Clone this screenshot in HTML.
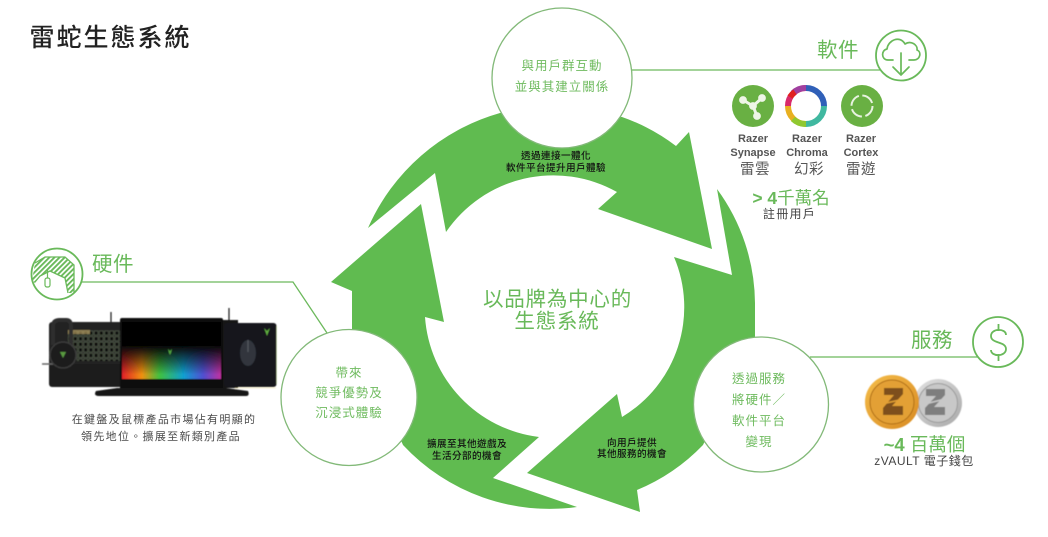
<!DOCTYPE html>
<html><head><meta charset="utf-8"><style>
html,body{margin:0;padding:0;background:#fff}
svg{display:block}
text{font-family:"Liberation Sans","Noto Sans CJK TC",sans-serif;text-anchor:middle}
.g{fill:#69b95a}
.c{fill:#6fbb5f;font-size:12.5px;letter-spacing:1px}
.k{fill:#111;font-size:9.6px;letter-spacing:.4px;font-weight:500}
.d{fill:#4a4a4a;font-size:11px;letter-spacing:1.300px}
.r{fill:#555;font-size:11px;font-weight:700}
</style></head><body>
<svg width="1048" height="537" viewBox="0 0 1048 537" xmlns="http://www.w3.org/2000/svg">
<defs>
<filter id="b"><feGaussianBlur stdDeviation=".6"/></filter>
<linearGradient id="sp" x1="0" x2="1" y1="0" y2="0"><stop offset="0" stop-color="#e0202a"/><stop offset=".2" stop-color="#f09010"/><stop offset=".38" stop-color="#40c040"/><stop offset=".62" stop-color="#10a0d0"/><stop offset=".82" stop-color="#5050d0"/><stop offset="1" stop-color="#c030a0"/></linearGradient>
<linearGradient id="fd" x1="0" x2="0" y1="0" y2="1"><stop offset="0" stop-color="#060606"/><stop offset=".42" stop-color="#060606"/><stop offset=".92" stop-color="#060606" stop-opacity="0"/></linearGradient>
<linearGradient id="gold" x1="0" x2="1" y1="0" y2="1"><stop offset="0" stop-color="#f5bd4a"/><stop offset="1" stop-color="#d88a22"/></linearGradient>
<linearGradient id="silv" x1="0" x2="1" y1="0" y2="1"><stop offset="0" stop-color="#e2e2e2"/><stop offset="1" stop-color="#a8a8a8"/></linearGradient>
<pattern id="hatch" width="3.600" height="3.600" patternUnits="userSpaceOnUse" patternTransform="rotate(45)"><rect width="1.900" height="3.600" fill="#69b95a"/></pattern>
<pattern id="keys" width="5.200" height="5.600" patternUnits="userSpaceOnUse"><rect x=".6" y=".6" width="3.800" height="4.200" fill="#0a0a0a" stroke="#4f5a48" stroke-width=".8"/></pattern>
</defs>
<rect width="1048" height="537" fill="#fff"/>

<text x="110.500" y="46" style="font-size:25px;letter-spacing:2px;fill:#222;font-weight:500">雷蛇生態系統</text>

<!-- arrows -->
<g fill="#60bb50">
<path d="M368 228 A205 205 0 0 1 500 113 L622 117 A195 195 0 0 1 676 146 L689 132 L712 249 L598 209 L617 192 A130 130 0 0 0 446 232 L435 173 Z"/>
<path d="M717 189 A195 195 0 0 1 755 303 L755 337 L703 445 A195 195 0 0 1 637 490 L640 512 L527 473 L617 394 L622 417 A128 128 0 0 0 674 257 L732 275 Z"/>
<path d="M577 507 A200 200 0 0 1 403 445 L352 330 L352 291 L331 282 L421 204 L444 322 L425 317 A130 130 0 0 0 539 437 L493 478 Z"/>
</g>

<!-- connector lines -->
<g fill="none" stroke="#6cb95c" stroke-width="1.300">
<path d="M632 70 H880"/>
<path d="M80 282 H293 L327 333"/>
<path d="M810 357 H978"/>
</g>

<!-- big circles -->
<g fill="#fff" stroke="#82b978" stroke-width="1.300">
<circle cx="562" cy="78" r="70"/>
<circle cx="761" cy="404.500" r="67.500"/>
<circle cx="349" cy="397.500" r="68"/>
</g>

<text class="c" x="562" y="70">與用戶群互動</text>
<text class="c" x="562" y="91">並與其建立關係</text>
<text class="c" x="349" y="377">帶來</text>
<text class="c" x="349" y="397">競爭優勢及</text>
<text class="c" x="349" y="417">沉浸式體驗</text>
<text class="c" x="759" y="383">透過服務</text>
<text class="c" x="759" y="404">將硬件／</text>
<text class="c" x="759" y="425">軟件平台</text>
<text class="c" x="759" y="446">變現</text>

<text class="k" x="556" y="159">透過連接一體化</text>
<text class="k" x="556" y="171">軟件平台提升用戶體驗</text>
<text class="k" x="467" y="447">擴展至其他遊戲及</text>
<text class="k" x="467" y="459">生活分部的機會</text>
<text class="k" x="632" y="446">向用戶提供</text>
<text class="k" x="632" y="457">其他服務的機會</text>

<text x="557.500" y="306" style="font-size:20.500px;letter-spacing:.8px;fill:#69b95a">以品牌為中心的</text>
<text x="557" y="328" style="font-size:20.500px;letter-spacing:.8px;fill:#69b95a">生態系統</text>

<!-- software -->
<text class="g" x="838" y="57" style="font-size:20.500px;letter-spacing:.5px">軟件</text>
<circle cx="901" cy="55.500" r="25" fill="#fff" stroke="#69b95a" stroke-width="1.800"/>
<g fill="none" stroke="#69b95a" stroke-width="1.700" stroke-linecap="round" stroke-linejoin="round">
<path d="M893 60 H888 C881 60 881 50 887 49 C888 40 900 35 905 44 C911 40 918 45 917 50 C922 52 920 60 914 60 H909"/>
<path d="M901 53 V75 M893 67 L901 75 L909 67"/>
</g>

<circle cx="753" cy="106" r="21" fill="#69b043"/>
<g stroke="#eef5e6" fill="#eef5e6" stroke-width="3" stroke-linecap="round">
<path d="M743 100 L753 106 L762 98 M753 106 L757 116" fill="none"/>
<circle cx="743" cy="100" r="2.400"/><circle cx="762" cy="98" r="2.400"/><circle cx="757" cy="116" r="2.400"/><circle cx="753" cy="106" r="2.400"/>
</g>
<g fill="none" stroke-width="6">
<path d="M806 88 A18 18 0 0 1 824 106" stroke="#3060b8"/>
<path d="M806 88 A18 18 0 0 0 788 106" stroke="#d82a6a"/>
<path d="M788 106 A18 18 0 0 0 806 124" stroke="#e8b020"/>
<path d="M806 124 A18 18 0 0 0 824 106" stroke="#40b8a0"/>
<path d="M793 93 A18 18 0 0 1 806 88" stroke="#a040a0"/>
<path d="M793 119 A18 18 0 0 0 806 124" stroke="#90c830"/>
<path d="M790 97 A18 18 0 0 1 795 92" stroke="#e02020"/>
</g>
<circle cx="862" cy="106" r="21" fill="#69b043"/>
<circle cx="862" cy="106" r="10.500" fill="none" stroke="#e8f2e0" stroke-width="2" stroke-dasharray="13 3.500"/>

<text class="r" x="753" y="142">Razer</text>
<text class="r" x="753" y="156">Synapse</text>
<text x="755" y="174" style="font-size:14.500px;fill:#555;letter-spacing:.5px">雷雲</text>
<text class="r" x="807" y="142">Razer</text>
<text class="r" x="807" y="156">Chroma</text>
<text x="809" y="174" style="font-size:14.500px;fill:#555;letter-spacing:.5px">幻彩</text>
<text class="r" x="861" y="142">Razer</text>
<text class="r" x="861" y="156">Cortex</text>
<text x="861" y="174" style="font-size:14.500px;fill:#555;letter-spacing:.5px">雷遊</text>

<text class="g" x="791" y="204" style="font-size:17.500px"><tspan font-weight="700">&gt; 4</tspan>千萬名</text>
<text x="789.500" y="218" style="font-size:12px;fill:#444;letter-spacing:1.300px">註冊用戶</text>

<!-- hardware -->
<circle cx="57" cy="274" r="25.500" fill="#fff" stroke="#69b95a" stroke-width="1.800"/>
<path d="M32 281 L35 263 L45 257 H65 L74 265 V293 H68 L65 278 L50 271 L40 276 L35 283 Z" fill="url(#hatch)"/>
<path d="M35 282 L40 276 L50 271 L65 278 L68 293" fill="none" stroke="#69b95a" stroke-width="1.300"/>
<path d="M35 263 L45 257 H65 L74 265 V293" fill="none" stroke="#69b95a" stroke-width="1.300"/>
<rect x="45" y="278" width="5" height="9" rx="2" fill="#fff" stroke="#69b95a" stroke-width="1.200"/>
<path d="M47.500 270 V278" stroke="#69b95a" stroke-width="1.200"/>
<text class="g" x="113" y="271" style="font-size:20.500px;letter-spacing:.5px">硬件</text>

<!-- hardware photo -->
<g filter="url(#b)">
<path d="M111 325 V312 M229 322 V308" stroke="#222" stroke-width="1.300"/>
<rect x="49" y="322" width="76" height="65" rx="3" fill="#242424"/>
<rect x="68" y="330" width="52" height="31" fill="url(#keys)"/>
<rect x="68" y="330" width="22" height="4" fill="#b09860" opacity=".7"/>
<rect x="50" y="364" width="72" height="22" fill="#1a1a1a"/>
<path d="M42 364 H60" stroke="#666" stroke-width="1.500"/>
<path d="M53 345 V326 Q53 320 60 320 H66 Q71 320 71 326 V345" fill="none" stroke="#2e2e2e" stroke-width="4"/>
<circle cx="63" cy="355" r="13" fill="#1c1c1c" stroke="#3a3a3a" stroke-width="1.500"/>
<path d="M60 352 h6 l-3 6z" fill="#5a9a40"/>
<rect x="220" y="320" width="18" height="68" fill="#181818"/>
<rect x="224" y="323" width="52.500" height="64" rx="3" fill="#14161a"/>
<path d="M276.500 326 V384" stroke="#bcd890" stroke-width="1" opacity=".4"/>
<path d="M235 388 H276" stroke="#e8d890" stroke-width="1" opacity=".4"/>
<ellipse cx="248" cy="353" rx="8" ry="13" fill="#30343c"/>
<path d="M248 340 V352" stroke="#50545c" stroke-width="1.500"/>
<path d="M264 328 l3 3 l3 -3 l-2 5 l-1 3 l-1 -3z" fill="#60b040"/>
<path d="M120 320 Q120 318 122 318 H221 Q223 318 223 320 V388 H120 Z" fill="#0a0a0a"/>
<rect x="122" y="345" width="99" height="34" fill="url(#sp)"/>
<rect x="122" y="322" width="99" height="57" fill="url(#fd)"/>
<path d="M168 349 l2 2 l2 -2 l-1 4 l-1 2 l-1 -2z" fill="#50a040"/>
<path d="M117 388 H226 L248 391 Q250 396 246 396 H99 Q93 396 96 391 Z" fill="#161616"/>
</g>
<text class="d" x="164" y="423">在鍵盤及鼠標產品市場佔有明顯的</text>
<text class="d" x="161" y="440">領先地位。擴展至新類別產品</text>

<!-- services -->
<text class="g" x="932" y="347" style="font-size:20.500px;letter-spacing:.5px">服務</text>
<circle cx="998" cy="342" r="25" fill="#fff" stroke="#69b95a" stroke-width="1.800"/>
<path d="M1006 335 C1006 328 991 328 991 336 C991 344 1006 341 1006 349 C1006 357 991 357 991 350 M998.500 324 V331 M998.500 354 V361" fill="none" stroke="#69b95a" stroke-width="1.800"/>

<g filter="url(#b)">
<circle cx="938" cy="403" r="24" fill="url(#silv)"/>
<circle cx="938" cy="403" r="19.500" fill="#c8c8c8" stroke="#9a9a9a"/>
<path d="M926 389 H945 V395 L934 407 H945 V415 H925 V408 L936 396 H926 Z" fill="#7e7e7e"/>
<path d="M925 404 L945 399" stroke="#c8c8c8" stroke-width="1.500"/>
<circle cx="892" cy="402" r="27" fill="url(#gold)"/>
<circle cx="892" cy="402" r="22" fill="#e3a035" stroke="#b06f18"/>
<path d="M884 388 H903 V394 L892 406 H903 V415 H883 V408 L894 395 H884 Z" fill="#7e4f1a"/>
<path d="M882 404 L904 399" stroke="#e3a035" stroke-width="1.500"/>
</g>

<text class="g" x="924.500" y="451" style="font-size:18.500px"><tspan font-weight="700">~4</tspan> 百萬個</text>
<text x="924" y="465" style="font-size:12px;fill:#444;letter-spacing:.5px">zVAULT 電子錢包</text>
</svg>
</body></html>
